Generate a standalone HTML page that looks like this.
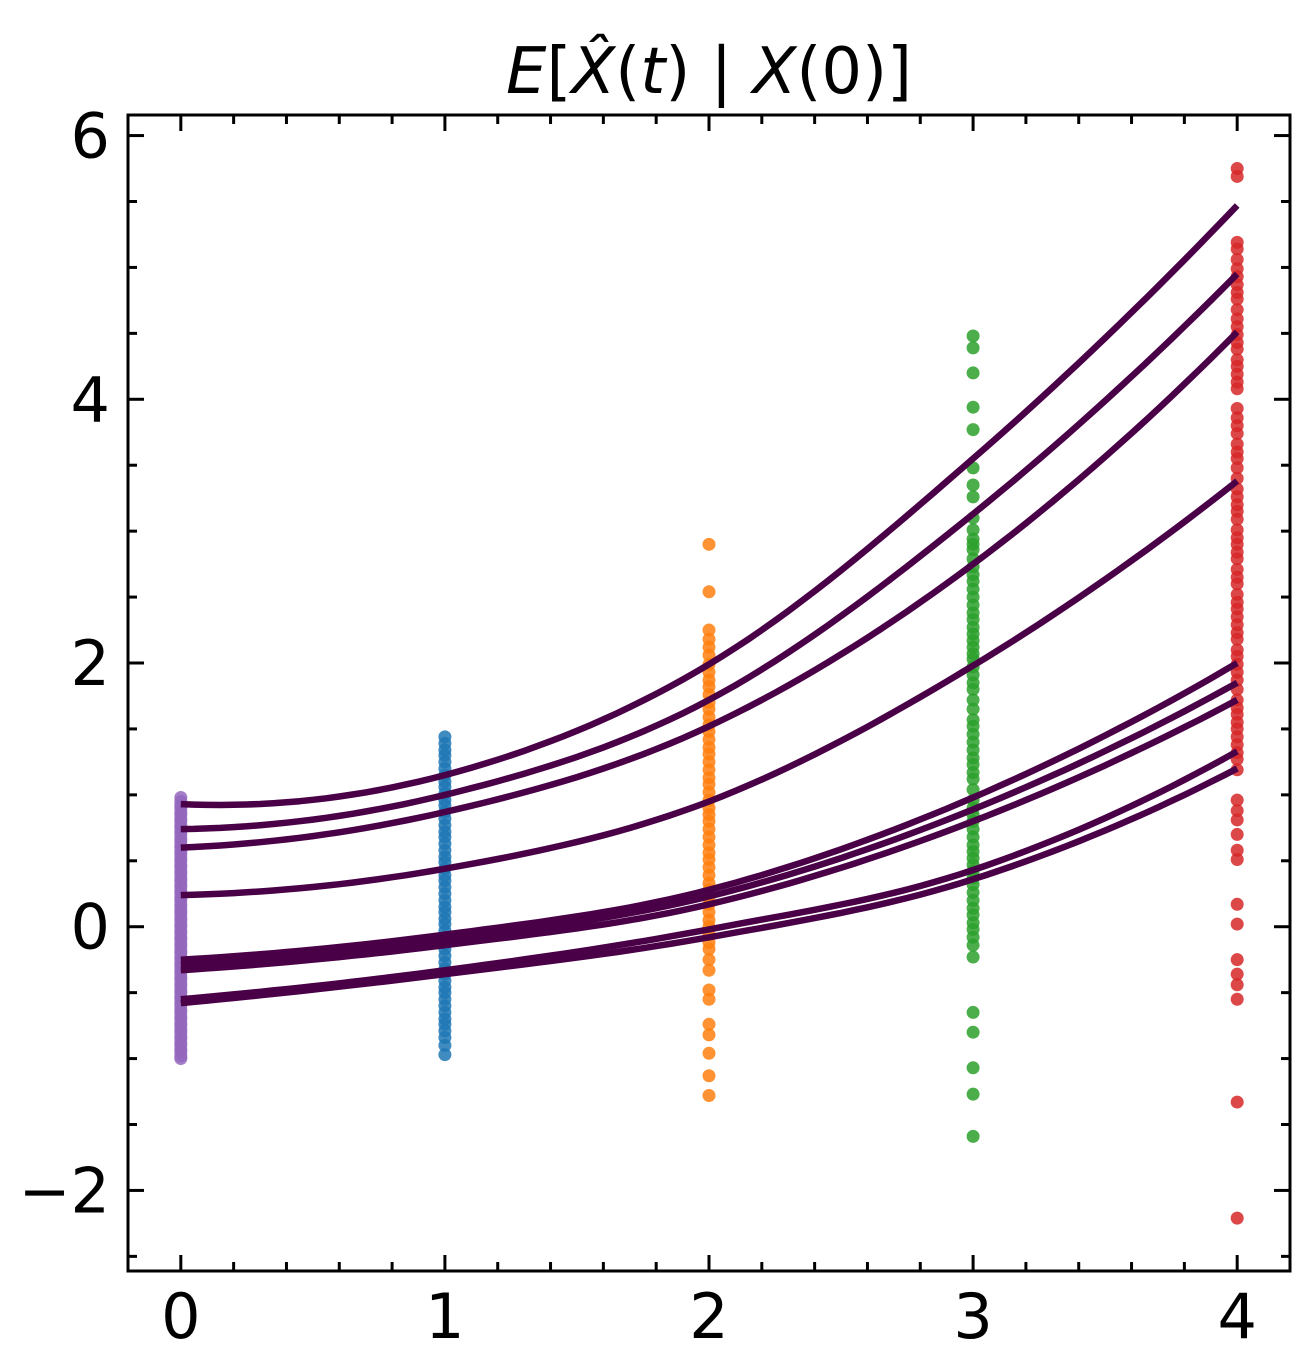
<!DOCTYPE html>
<html><head><meta charset="utf-8"><style>
html,body{margin:0;padding:0;background:#fff;}
svg{display:block;font-family:"DejaVu Sans","Liberation Sans",sans-serif;}
</style></head><body>
<svg id="chart" width="1305" height="1367" viewBox="0 0 1305 1367" xmlns="http://www.w3.org/2000/svg">
<rect width="1305" height="1367" fill="#fff"/>
<text x="709" y="93" font-size="64" text-anchor="middle" fill="#000"><tspan font-style="italic">E</tspan>[<tspan font-style="italic">X̂</tspan>(<tspan font-style="italic">t</tspan>) | <tspan font-style="italic">X</tspan>(0)]</text>
<g id="marks"></g>
<g id="axes"></g>
</svg>
<script>
const times=[0,1,2,3,4];
const curve1=[0.93,1.15,1.99,3.55,5.47];
const curve2=[0.74,1.0,1.72,3.13,4.95];
const curve3=[0.6,0.87,1.52,2.75,4.51];
const curve4=[0.24,0.44,0.95,1.98,3.38];
const curve5=[-0.25,-0.06,0.28,0.98,2.0];
const curve6=[-0.29,-0.1,0.23,0.89,1.85];
const curve7=[-0.33,-0.14,0.17,0.8,1.72];
const curve8=[-0.55,-0.33,-0.02,0.43,1.33];
const curve9=[-0.58,-0.36,-0.08,0.36,1.2];
const samplesT0=[0.98,0.95,0.92,0.9,0.87,0.85,0.82,0.8,0.77,0.75,0.72,0.7,0.67,0.65,0.62,0.6,0.57,0.55,0.52,0.5,0.47,0.45,0.42,0.4,0.37,0.35,0.32,0.3,0.27,0.25,0.22,0.2,0.17,0.15,0.12,0.1,0.07,0.05,0.02,0,-0.03,-0.05,-0.08,-0.1,-0.13,-0.15,-0.18,-0.2,-0.23,-0.25,-0.28,-0.3,-0.33,-0.35,-0.38,-0.4,-0.43,-0.45,-0.48,-0.5,-0.53,-0.55,-0.58,-0.6,-0.63,-0.65,-0.68,-0.7,-0.73,-0.75,-0.78,-0.8,-0.83,-0.85,-0.88,-0.9,-0.93,-0.95,-0.98,-1.0];
const samplesT1=[1.44,1.39,1.34,1.3,1.25,1.2,1.15,1.1,1.06,1.01,0.96,0.92,0.87,0.82,0.77,0.72,0.68,0.63,0.58,0.53,0.49,0.44,0.39,0.35,0.3,0.25,0.2,0.15,0.11,0.06,0.02,-0.03,-0.08,-0.13,-0.17,-0.22,-0.27,-0.32,-0.36,-0.41,-0.46,-0.5,-0.55,-0.6,-0.65,-0.7,-0.74,-0.79,-0.84,-0.9,-0.97];
const samplesT2=[2.9,2.54,2.25,2.18,2.12,2.06,1.99,1.93,1.87,1.82,1.76,1.7,1.65,1.59,1.53,1.48,1.42,1.36,1.31,1.25,1.19,1.13,1.08,1.02,0.96,0.9,0.85,0.8,0.74,0.68,0.62,0.56,0.51,0.45,0.39,0.33,0.28,0.22,0.17,0.11,0.05,0,-0.06,-0.12,-0.17,-0.25,-0.33,-0.48,-0.55,-0.74,-0.82,-0.96,-1.13,-1.28];
const samplesT3=[4.48,4.39,4.2,3.94,3.77,3.48,3.35,3.26,3.1,3.01,2.94,2.9,2.86,2.79,2.73,2.67,2.62,2.56,2.5,2.44,2.38,2.33,2.27,2.22,2.17,2.12,2.07,2.03,1.97,1.91,1.85,1.8,1.72,1.65,1.57,1.52,1.46,1.4,1.34,1.28,1.23,1.17,1.12,1.04,0.96,0.9,0.85,0.8,0.74,0.68,0.62,0.57,0.52,0.47,0.42,0.37,0.32,0.26,0.2,0.14,0.09,0.03,-0.02,-0.08,-0.14,-0.23,-0.65,-0.8,-1.07,-1.27,-1.59];
const samplesT4=[5.75,5.69,5.19,5.14,5.06,4.99,4.93,4.87,4.81,4.76,4.68,4.61,4.55,4.49,4.43,4.38,4.3,4.25,4.19,4.13,4.08,3.93,3.86,3.8,3.74,3.66,3.6,3.55,3.48,3.4,3.32,3.26,3.2,3.15,3.09,3.01,2.95,2.9,2.84,2.79,2.71,2.65,2.6,2.52,2.46,2.41,2.35,2.29,2.23,2.18,2.1,2.05,1.99,1.93,1.87,1.8,1.72,1.66,1.61,1.55,1.5,1.44,1.38,1.32,1.27,1.19,0.96,0.88,0.81,0.7,0.58,0.51,0.17,0.02,-0.25,-0.36,-0.44,-0.55,-1.33,-2.21];
const xTicks=[0,1,2,3,4];
const yTicks=[-2,0,2,4,6];

const NS="http://www.w3.org/2000/svg";
const L=128,R=1290,T=115,B=1271;
const xMin=-0.2,xMax=4.2,yMin=-2.611,yMax=6.156;
const sx=v=>L+(v-xMin)/(xMax-xMin)*(R-L);
const sy=v=>B-(v-yMin)/(yMax-yMin)*(B-T);
const marks=document.getElementById('marks');
const axes=document.getElementById('axes');
function mk(tag,attrs,parent){const e=document.createElementNS(NS,tag);for(const k in attrs)e.setAttribute(k,attrs[k]);parent.appendChild(e);return e;}

const groups=[[samplesT0,'#9467bd','t0'],[samplesT1,'#1f77b4','t1'],[samplesT2,'#ff7f0e','t2'],[samplesT3,'#2ca02c','t3'],[samplesT4,'#d62728','t4']];
groups.forEach((g,i)=>{g[0].forEach(v=>{
  const c=mk('circle',{cx:sx(times[i]),cy:sy(v),r:6.5,fill:g[1],'fill-opacity':0.85},marks);
  
  
});});

const curves=[curve1,curve2,curve3,curve4,curve5,curve6,curve7,curve8,curve9];
curves.forEach((cv,ci)=>{
  const n=cv.length;
  const ext=[3*cv[0]-3*cv[1]+cv[2]].concat(cv,[3*cv[n-1]-3*cv[n-2]+cv[n-3]]);
  let d='';
  for(let i=0;i<n-1;i++){
    const p0=ext[i],p1=ext[i+1],p2=ext[i+2],p3=ext[i+3];
    for(let s=0;s<=20;s++){
      if(i>0&&s===0)continue;
      const t=s/20;
      const v=0.5*((2*p1)+(-p0+p2)*t+(2*p0-5*p1+4*p2-p3)*t*t+(-p0+3*p1-3*p2+p3)*t*t*t);
      const x=times[i]+t*(times[i+1]-times[i]);
      d+=(d?'L':'M')+sx(x).toFixed(1)+','+sy(v).toFixed(1);
    }
  }
  const p=mk('path',{d:d,fill:'none',stroke:'#4a0047',"stroke-width":6.5,"stroke-linejoin":'round'},marks);
  
  
});

const frame=mk('rect',{x:L,y:T,width:R-L,height:B-T,fill:'none',stroke:'#000','stroke-width':3},axes);



for(let v=-0.2;v<=4.2001;v+=0.2){
  const x=sx(v);const major=Math.abs(v-Math.round(v))<1e-6;const len=major?16:9;
  mk('line',{x1:x,y1:B,x2:x,y2:B-len,stroke:'#000','stroke-width':3},axes);
  mk('line',{x1:x,y1:T,x2:x,y2:T+len,stroke:'#000','stroke-width':3},axes);
}
for(let v=-2.5;v<=6.001;v+=0.5){
  const y=sy(v);const major=Math.abs(v/2-Math.round(v/2))<1e-6;const len=major?16:9;
  mk('line',{x1:L,y1:y,x2:L+len,y2:y,stroke:'#000','stroke-width':3},axes);
  mk('line',{x1:R,y1:y,x2:R-len,y2:y,stroke:'#000','stroke-width':3},axes);
}
xTicks.forEach(v=>{
  const t=mk('text',{x:sx(v),y:1338,'font-size':62,'text-anchor':'middle',fill:'#000'},axes);
  t.textContent=String(v);
  
  
});
yTicks.forEach(v=>{
  const t=mk('text',{x:110,y:sy(v)+22,'font-size':62,'text-anchor':'end',fill:'#000'},axes);
  t.textContent=v<0?'\u2212'+Math.abs(v):String(v);
  
  
});
</script>
</body></html>
